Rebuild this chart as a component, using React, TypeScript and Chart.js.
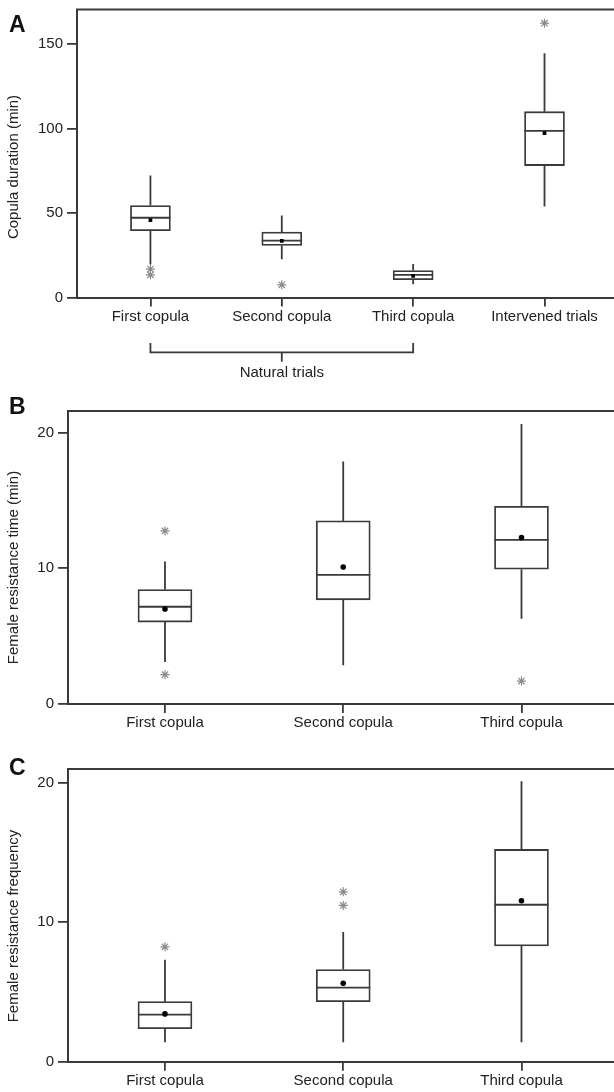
import React, { useEffect, useRef } from "react";
import { Chart, registerables } from "chart.js";

Chart.register(...registerables);

// ---------- Panel A: copula duration ----------
const CATEGORIES_A = ["First copula", "Second copula", "Third copula", "Intervened trials"];
const Q1_A = [39.6, 30.8, 10.5, 78.1];
const Q3_A = [54.4, 38.7, 16.0, 110.0];
const MEDIAN_A = [47.2, 33.7, 13.4, 98.6];
const MEAN_A = [45.8, 33.5, 12.8, 97.3];
const WHISKER_LOW_A = [19.5, 22.7, 7.9, 53.8];
const WHISKER_HIGH_A = [72.2, 48.5, 19.8, 144.6];
const OUTLIER_X_A = [1, 1, 2, 4];
const OUTLIER_Y_A = [16.8, 13.4, 7.5, 162.4];
const TICKS_A = [0, 50, 100, 150];

// ---------- Panel B: female resistance time ----------
const CATEGORIES_B = ["First copula", "Second copula", "Third copula"];
const Q1_B = [6.04, 7.68, 9.94];
const Q3_B = [8.44, 13.5, 14.58];
const MEDIAN_B = [7.17, 9.52, 12.1];
const MEAN_B = [7.0, 10.1, 12.27];
const WHISKER_LOW_B = [3.09, 2.85, 6.28];
const WHISKER_HIGH_B = [10.5, 17.87, 20.64];
const OUTLIER_X_B = [1, 1, 3];
const OUTLIER_Y_B = [12.76, 2.16, 1.69];
const TICKS_B = [0, 10, 20];

// ---------- Panel C: female resistance frequency ----------
const CATEGORIES_C = ["First copula", "Second copula", "Third copula"];
const Q1_C = [2.37, 4.31, 8.31];
const Q3_C = [4.31, 6.61, 15.23];
const MEDIAN_C = [3.38, 5.32, 11.26];
const MEAN_C = [3.43, 5.63, 11.55];
const WHISKER_LOW_C = [1.39, 1.39, 1.39];
const WHISKER_HIGH_C = [7.31, 9.3, 20.12];
const OUTLIER_X_C = [1, 2, 2];
const OUTLIER_Y_C = [8.24, 12.19, 11.21];
const TICKS_C = [0, 10, 20];

const FONT = "'Liberation Sans', Arial, Helvetica, sans-serif";
const LINE = "#3a3a3a";
const TEXT = "#222222";
const STAR = "#8a8a8a";
const W = 614;

type Panel = {
  letter: string;
  yTitle: string;
  categories: string[];
  q1: number[];
  q3: number[];
  median: number[];
  mean: number[];
  low: number[];
  high: number[];
  outX: number[];
  outY: number[];
  ticks: number[];
  yMax: number;
  xMin: number;
  xMax: number;
  top: number;
  height: number;
  areaTop: number;
  areaBottom: number;
  areaLeft: number;
  barWidth: number;
  meanStyle: string;
  titleY: number;
  letterY: number;
  bracket?: { from: number; to: number; label: string };
};

const PANELS: Panel[] = [
  {
    letter: "A",
    yTitle: "Copula duration (min)",
    categories: CATEGORIES_A,
    q1: Q1_A, q3: Q3_A, median: MEDIAN_A, mean: MEAN_A,
    low: WHISKER_LOW_A, high: WHISKER_HIGH_A,
    outX: OUTLIER_X_A, outY: OUTLIER_Y_A,
    ticks: TICKS_A, yMax: 170.5,
    xMin: 0.441, xMax: 4.529,
    top: 0, height: 390, areaTop: 9.5, areaBottom: 297.5, areaLeft: 77,
    barWidth: 40, meanStyle: "rect", titleY: 167, letterY: 32,
    bracket: { from: 1, to: 3, label: "Natural trials" },
  },
  {
    letter: "B",
    yTitle: "Female resistance time (min)",
    categories: CATEGORIES_B,
    q1: Q1_B, q3: Q3_B, median: MEDIAN_B, mean: MEAN_B,
    low: WHISKER_LOW_B, high: WHISKER_HIGH_B,
    outX: OUTLIER_X_B, outY: OUTLIER_Y_B,
    ticks: TICKS_B, yMax: 21.6,
    xMin: 0.456, xMax: 3.519,
    top: 390, height: 350, areaTop: 21, areaBottom: 314, areaLeft: 68,
    barWidth: 54, meanStyle: "circle", titleY: 177.5, letterY: 24,
  },
  {
    letter: "C",
    yTitle: "Female resistance frequency",
    categories: CATEGORIES_C,
    q1: Q1_C, q3: Q3_C, median: MEDIAN_C, mean: MEAN_C,
    low: WHISKER_LOW_C, high: WHISKER_HIGH_C,
    outX: OUTLIER_X_C, outY: OUTLIER_Y_C,
    ticks: TICKS_C, yMax: 21.0,
    xMin: 0.456, xMax: 3.519,
    top: 740, height: 352, areaTop: 29, areaBottom: 321.7, areaLeft: 68,
    barWidth: 54, meanStyle: "circle", titleY: 186, letterY: 35,
  },
];

function makePlugin(p: Panel) {
  return {
    id: "boxplot" + p.letter,
    beforeDatasetsDraw(chart: any) {
      const { ctx, scales } = chart;
      const x = scales.x, y = scales.y;
      ctx.save();
      ctx.strokeStyle = LINE;
      ctx.lineWidth = 1.8;
      p.q1.forEach((_, i) => {
        const px = x.getPixelForValue(i + 1);
        ctx.beginPath();
        ctx.moveTo(px, y.getPixelForValue(p.low[i]));
        ctx.lineTo(px, y.getPixelForValue(p.q1[i]));
        ctx.moveTo(px, y.getPixelForValue(p.q3[i]));
        ctx.lineTo(px, y.getPixelForValue(p.high[i]));
        ctx.stroke();
      });
      ctx.restore();
    },
    afterDatasetDraw(chart: any, args: any) {
      if (args.index !== 0) return;
      const { ctx, scales } = chart;
      const x = scales.x, y = scales.y;
      ctx.save();
      ctx.strokeStyle = LINE;
      ctx.lineWidth = 1.8;
      p.median.forEach((m, i) => {
        const px = x.getPixelForValue(i + 1);
        const py = y.getPixelForValue(m);
        ctx.beginPath();
        ctx.moveTo(px - p.barWidth / 2, py);
        ctx.lineTo(px + p.barWidth / 2, py);
        ctx.stroke();
      });
      ctx.restore();
    },
    afterDraw(chart: any) {
      const { ctx, chartArea, scales } = chart;
      const x = scales.x;
      ctx.save();
      ctx.strokeStyle = LINE;
      ctx.lineWidth = 2;
      ctx.beginPath();
      ctx.moveTo(chartArea.left - 1, chartArea.top);
      ctx.lineTo(chartArea.right, chartArea.top);
      ctx.stroke();
      ctx.fillStyle = "#111";
      ctx.font = `bold 23px ${FONT}`;
      ctx.textAlign = "left";
      ctx.textBaseline = "alphabetic";
      ctx.fillText(p.letter, 9, p.letterY);
      ctx.fillStyle = TEXT;
      ctx.font = `15px ${FONT}`;
      ctx.translate(14, p.titleY);
      ctx.rotate(-Math.PI / 2);
      ctx.textAlign = "center";
      ctx.textBaseline = "middle";
      ctx.fillText(p.yTitle, 0, 0);
      ctx.setTransform(1, 0, 0, 1, 0, 0);
      if (p.bracket) {
        const x1 = x.getPixelForValue(p.bracket.from);
        const x2 = x.getPixelForValue(p.bracket.to);
        const xm = (x1 + x2) / 2;
        ctx.strokeStyle = LINE;
        ctx.lineWidth = 1.8;
        ctx.beginPath();
        ctx.moveTo(x1, 343);
        ctx.lineTo(x1, 352.3);
        ctx.lineTo(x2, 352.3);
        ctx.lineTo(x2, 343);
        ctx.moveTo(xm, 352.3);
        ctx.lineTo(xm, 361.7);
        ctx.stroke();
        ctx.fillStyle = TEXT;
        ctx.font = `15px ${FONT}`;
        ctx.textAlign = "center";
        ctx.textBaseline = "middle";
        ctx.fillText(p.bracket.label, xm, 373);
      }
      ctx.restore();
    },
  };
}

function PanelChart({ p }: { p: Panel }) {
  const ref = useRef<HTMLCanvasElement | null>(null);
  useEffect(() => {
    if (!ref.current) return;
    const idx = p.q1.map((_, i) => i + 1);
    const chart = new Chart(ref.current, {
      type: "bar",
      data: {
        datasets: [
          {
            type: "bar",
            data: idx.map((xv, i) => ({ x: xv, y: [p.q1[i], p.q3[i]] })) as any,
            backgroundColor: "#ffffff",
            borderColor: LINE,
            borderWidth: 1.8,
            borderSkipped: false,
            barThickness: p.barWidth,
            order: 3,
          } as any,
          {
            type: "scatter",
            data: idx.map((xv, i) => ({ x: xv, y: p.mean[i] })),
            pointStyle: p.meanStyle,
            pointRadius: p.meanStyle === "rect" ? 2.6 : 2.8,
            backgroundColor: "#000",
            borderColor: "#000",
            borderWidth: 0,
            order: 1,
          } as any,
          {
            type: "scatter",
            data: p.outX.map((xv, i) => ({ x: xv, y: p.outY[i] })),
            pointStyle: "star",
            pointRadius: 4.5,
            backgroundColor: "transparent",
            borderColor: STAR,
            borderWidth: 1.2,
            order: 2,
          } as any,
        ],
      },
      options: {
        animation: false,
        responsive: false,
        events: [],
        layout: { autoPadding: false, padding: { top: p.areaTop, left: 0, right: 0, bottom: 0 } },
        plugins: { legend: { display: false }, tooltip: { enabled: false } },
        scales: {
          x: {
            type: "linear",
            offset: false,
            min: p.xMin,
            max: p.xMax,
            afterFit: (s: any) => {
              s.height = p.height - p.areaBottom;
              s.paddingLeft = 0;
              s.paddingRight = 0;
            },
            afterBuildTicks: (s: any) => { s.ticks = idx.map((v) => ({ value: v })); },
            ticks: {
              autoSkip: false,
              maxRotation: 0,
              padding: 1,
              color: TEXT,
              font: { family: FONT, size: 15 },
              callback: (v: any) => p.categories[Math.round(Number(v)) - 1] ?? "",
            },
            grid: { offset: false, drawOnChartArea: false, drawTicks: true, tickLength: 9, color: LINE, lineWidth: 1.8 },
            border: { display: true, color: LINE, width: 2 },
          },
          y: {
            type: "linear",
            min: 0,
            max: p.yMax,
            afterFit: (s: any) => {
              s.width = p.areaLeft;
              s.paddingTop = 0;
              s.paddingBottom = 0;
            },
            afterBuildTicks: (s: any) => { s.ticks = p.ticks.map((v) => ({ value: v })); },
            ticks: {
              padding: 4,
              color: TEXT,
              font: { family: FONT, size: 15 },
            },
            grid: { drawOnChartArea: false, drawTicks: true, tickLength: 10, color: LINE, lineWidth: 1.8 },
            border: { display: true, color: LINE, width: 2 },
          },
        },
      } as any,
      plugins: [makePlugin(p)],
    });
    return () => chart.destroy();
  }, [p]);
  return (
    <canvas
      ref={ref}
      width={W}
      height={p.height}
      style={{ position: "absolute", left: 0, top: p.top, width: W, height: p.height }}
    />
  );
}

export default function App() {
  return (
    <div
      style={{
        position: "absolute",
        left: 0,
        top: 0,
        width: W,
        height: 1092,
        overflow: "hidden",
        background: "#ffffff",
      }}
    >
      {PANELS.map((p) => (
        <PanelChart key={p.letter} p={p} />
      ))}
    </div>
  );
}
